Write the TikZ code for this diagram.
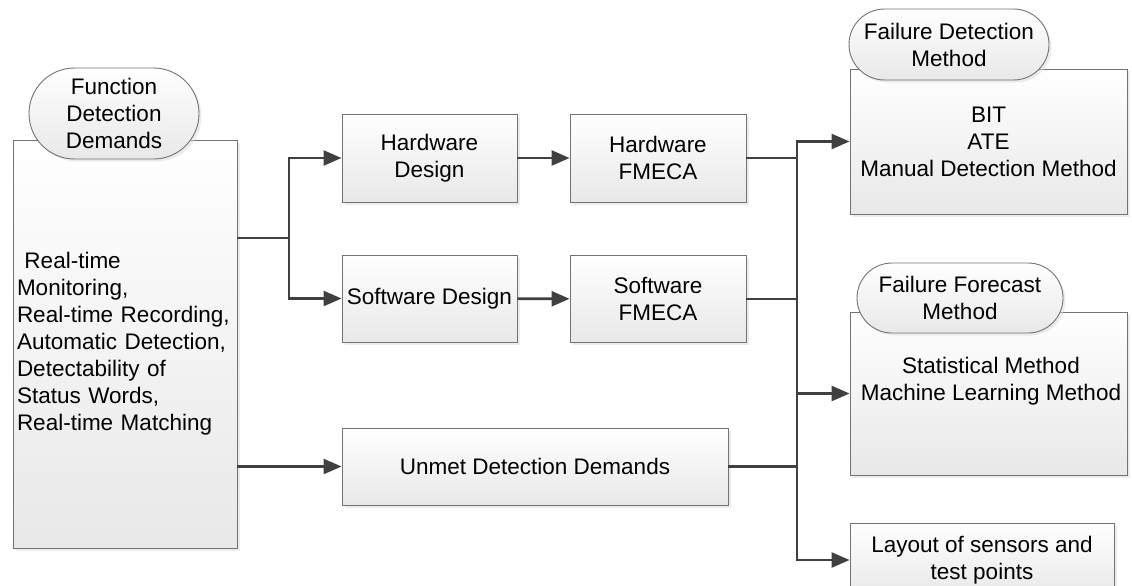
\documentclass[tikz,border=0pt]{standalone}
\usepackage{fontspec}
\setmainfont{Liberation Sans}
\usetikzlibrary{arrows.meta,positioning,shapes.misc,shadows}
\tikzset{every shadow/.style={fill=black!15,shadow xshift=2.5pt,shadow yshift=-2.5pt}}
\tikzset{
  block/.style={rectangle,draw=black!55,line width=0.9pt,top color=white,bottom color=black!9,
    drop shadow,align=center,inner sep=3pt,font=\fontsize{22.5}{27}\selectfont},
  pill/.style={block,rounded rectangle},
  plain/.style={align=center,inner sep=0pt,font=\fontsize{22.5}{27}\selectfont},
  flow/.style={draw=black!75,line width=2.6pt,-{Triangle[length=18pt,width=15pt]}},
  trunk/.style={draw=black!75,line width=2.6pt}
}

\begin{document}
\begin{tikzpicture}[x=1pt,y=-1pt]
\clip (0,0) rectangle (1132,586);
% left column
\node (funcbox) [block,minimum width=224pt,minimum height=408pt,text width=216pt,align=left] at (125,344)
  {~Real-time\\Monitoring,\\Real-time Recording,\\Automatic Detection,\\Detectability of\\Status Words,\\Real-time Matching};
\node (funcpill) [pill,minimum width=176pt,minimum height=91pt] at (114,113.5) {Function\\Detection\\Demands};
%
\node (hwdesign) [block,minimum width=175pt,minimum height=88pt] at (429.5,158) {Hardware\\Design};
\node (hwfmeca) [block,minimum width=176pt,minimum height=88pt] at (658,158) {Hardware\\FMECA};
\node (swdesign) [block,minimum width=175pt,minimum height=87pt] at (429.5,298.5) {Software Design};
\node (swfmeca) [block,minimum width=176pt,minimum height=87pt] at (658,299) {Software\\FMECA};
\node (unmet) [block,minimum width=386pt,minimum height=77pt] at (535,466.5) {Unmet Detection Demands};
% right column
\node (detect) [block,minimum width=277pt,minimum height=145pt] at (988.5,141.5) {BIT\\ATE\\Manual Detection Method};
\node (detectpill) [pill,minimum width=206pt,minimum height=71pt] at (949,44.5) {Failure Detection\\Method};
\node (forecast) [block,minimum width=277pt,minimum height=163pt] at (988.5,393.5) {};
\node (forecasttext) [plain] at (991,381) {Statistical Method\\Machine Learning Method};
\node (forecastpill) [pill,minimum width=212pt,minimum height=70pt] at (960,298) {Failure Forecast\\Method};
\node (layout) [block,minimum width=264pt,minimum height=74pt] at (982,560) {Layout of sensors and\\test points};
%
\coordinate (split) at (289,238);
\coordinate (bus) at (797,0);
\draw[trunk] (funcbox.east |- split) -- (split);
\draw[flow] (split) |- (hwdesign.west);
\draw[flow] (split) |- (swdesign.west);
\draw[flow] (funcbox.east |- unmet.west) -- (unmet.west);
\draw[flow] (hwdesign) -- (hwfmeca);
\draw[flow] (swdesign) -- (swfmeca);
%
\draw[trunk] (hwfmeca.east) -- (hwfmeca.east -| bus);
\draw[trunk] (swfmeca.east) -- (swfmeca.east -| bus);
\draw[trunk] (unmet.east) -- (unmet.east -| bus);
\draw[flow] (bus |- forecast.west) |- (detect.west);
\draw[flow] (bus |- forecast.west) -- (forecast.west);
\draw[flow] (bus |- forecast.west) |- (layout.west);
\end{tikzpicture}
\end{document}
